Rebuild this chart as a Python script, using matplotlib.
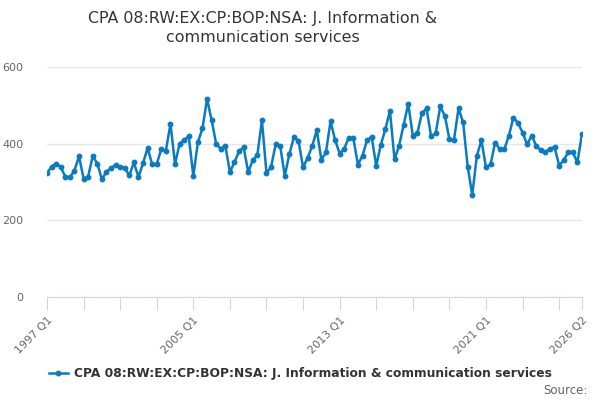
import matplotlib
matplotlib.use("Agg")
import matplotlib.pyplot as plt

title = "CPA 08:RW:EX:CP:BOP:NSA: J. Information &\ncommunication services"
series_name = "CPA 08:RW:EX:CP:BOP:NSA: J. Information & communication services"

first_year = 1997
# quarterly values, 1997 Q1 .. 2026 Q2
values = [
    323, 340, 348, 339, 314, 312, 330, 367, 309, 314, 368, 348, 307, 327, 336, 345,
    339, 337, 317, 351, 313, 349, 389, 346, 347, 386, 382, 452, 347, 400, 410, 419,
    316, 404, 440, 516, 462, 399, 387, 395, 326, 352, 380, 391, 326, 357, 370, 461,
    323, 339, 398, 394, 316, 373, 417, 408, 338, 363, 394, 435, 358, 377, 458, 410,
    374, 387, 416, 414, 345, 369, 409, 418, 342, 397, 438, 486, 359, 395, 449, 504,
    421, 428, 480, 492, 419, 427, 497, 473, 412, 410, 492, 456, 340, 266, 368, 409,
    338, 346, 403, 386, 385, 421, 468, 454, 429, 398, 421, 394, 383, 378, 387, 391,
    343, 357, 378, 377, 351, 426,
]
labels = [f"{first_year + i // 4} Q{i % 4 + 1}" for i in range(len(values))]
shown_labels = {0, 32, 64, 96, len(values) - 1}

x = list(range(len(values)))

fig = plt.figure(figsize=(6, 4), dpi=100)
ax = fig.add_axes([47 / 600, 103 / 400, 535 / 600, 230 / 400])

ax.plot(x, values, color="#0a7bc1", lw=1.8, marker="o", ms=3.2, label=series_name)

ax.set_xlim(0, len(values) - 1)
ax.set_ylim(0, 600)
ax.set_yticks([0, 200, 400, 600])
ax.grid(axis="y", color="#e6e6e6", lw=1)
ax.set_axisbelow(True)

ticks = list(range(0, len(values), 8)) + [len(values) - 1]
ax.set_xticks(ticks)
ax.set_xticklabels([labels[t] if t in shown_labels else "" for t in ticks],
                   rotation=45, ha="right", va="top", rotation_mode="anchor")

for s in ["top", "right", "left"]:
    ax.spines[s].set_visible(False)
ax.spines["bottom"].set_color("#ccd6eb")
ax.tick_params(axis="x", length=9, color="#ccd6eb", labelsize=8, labelcolor="#666666", pad=4)
ax.tick_params(axis="y", length=0, labelsize=8, labelcolor="#666666", pad=17)

fig.text(263 / 600, 1 - 28 / 400, title, ha="center", va="center", fontsize=11.4,
         color="#333333", linespacing=1.3)

leg = fig.legend(loc="center", bbox_to_anchor=(0.5, 1 - 374 / 400), frameon=False,
                 prop={"weight": "bold", "size": 8.8}, handlelength=1.6, handletextpad=0.45)
for t in leg.get_texts():
    t.set_color("#333333")

fig.text(588 / 600, 1 - 390 / 400, "Source:", ha="right", va="center", fontsize=8.5, color="#666666")

fig.savefig("out.png", dpi=100)
